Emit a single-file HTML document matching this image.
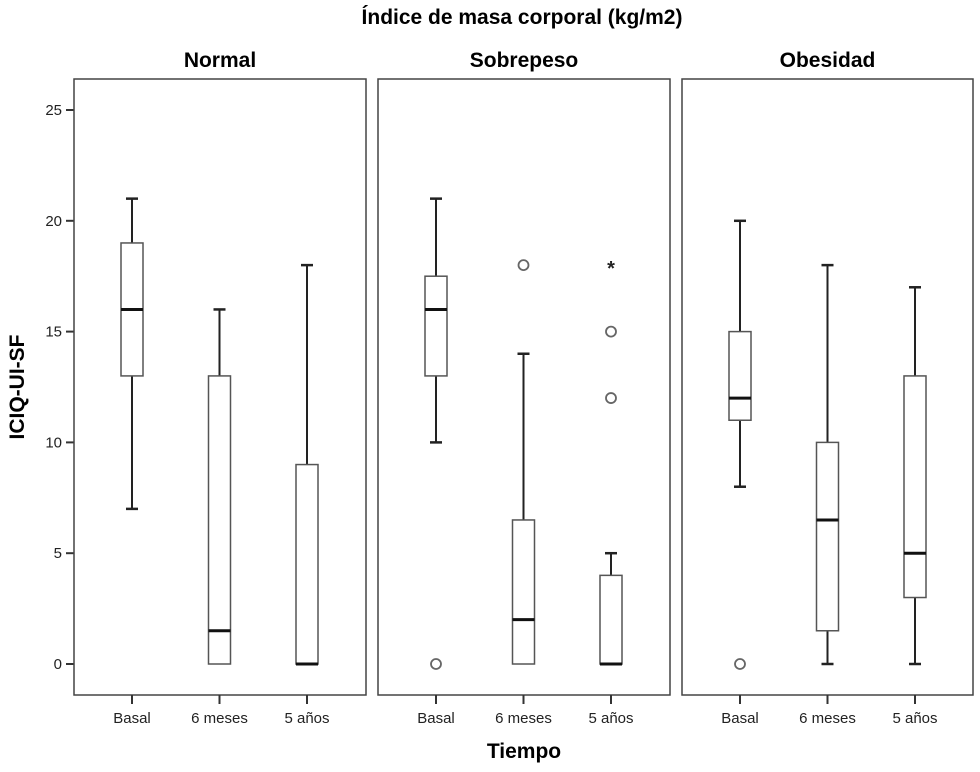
<!DOCTYPE html>
<html><head><meta charset="utf-8"><style>
body{margin:0;background:#fff;}
svg text{font-family:"Liberation Sans",Arial,sans-serif;}
</style></head><body>
<svg id="chart" width="980" height="767" viewBox="0 0 980 767" xmlns="http://www.w3.org/2000/svg">
<text x="522" y="24" font-size="21" font-weight="bold" text-anchor="middle">Índice de masa corporal (kg/m2)</text>
<text x="524" y="758" font-size="21" font-weight="bold" text-anchor="middle">Tiempo</text>
<text transform="translate(24,387) rotate(-90)" font-size="21" font-weight="bold" text-anchor="middle">ICIQ-UI-SF</text>
<g id="plot"></g>
</svg>
<script>
const panels = ["Normal","Sobrepeso","Obesidad"];
const categories = ["Basal","6 meses","5 años"];
const yTicks = [0,5,10,15,20,25];
// [min, q1, median, q3, max] per panel per category
const normalStats = [[7,13,16,19,21],[0,0,1.5,13,16],[0,0,0,9,18]];
const sobrepesoStats = [[10,13,16,17.5,21],[0,0,2,6.5,14],[0,0,0,4,5]];
const obesidadStats = [[8,11,12,15,20],[0,1.5,6.5,10,18],[0,3,5,13,17]];
const normalOutliers = [[],[],[]];
const sobrepesoOutliers = [[0],[18],[12,15]];
const obesidadOutliers = [[0],[],[]];
const sobrepesoExtremes = [[],[],[18]];
const normalExtremes = [[],[],[]];
const obesidadExtremes = [[],[],[]];

const allStats=[normalStats,sobrepesoStats,obesidadStats];
const allOut=[normalOutliers,sobrepesoOutliers,obesidadOutliers];
const allExt=[normalExtremes,sobrepesoExtremes,obesidadExtremes];
const panelX=[[74,366],[378,670],[682,973]];
const topY=79,bottomY=695;
const y=v=>664-v*(664-110)/25;
const xPos=(p,i)=>panelX[p][0]+58+i*87.5;
const g=document.getElementById('plot');
const NS="http://www.w3.org/2000/svg";
function mk(tag,attrs,parent){const e=document.createElementNS(NS,tag);for(const k in attrs)e.setAttribute(k,attrs[k]);(parent||g).appendChild(e);return e;}
yTicks.forEach(t=>{
  const l=mk('line',{x1:66,x2:74,y1:y(t),y2:y(t),stroke:'#333','stroke-width':2});
  
  
  const tx=mk('text',{x:62,y:y(t)+5,'font-size':15,'text-anchor':'end',fill:'#222'});
  tx.textContent=t;
  
  
});
panels.forEach((name,p)=>{
  const [x0,x1]=panelX[p];
  const fr=mk('rect',{x:x0,y:topY,width:x1-x0,height:bottomY-topY,fill:'none',stroke:'#444','stroke-width':1.5});
  
  
  const tt=mk('text',{x:(x0+x1)/2,y:67,'font-size':21,'font-weight':'bold','text-anchor':'middle'});
  tt.textContent=name;
  
  
  categories.forEach((c,i)=>{
    const cx=xPos(p,i),w=22,s=allStats[p][i];
    const tk=mk('line',{x1:cx,x2:cx,y1:bottomY,y2:bottomY+9,stroke:'#333','stroke-width':2});
    
    
    const lb=mk('text',{x:cx,y:723,'font-size':15,'text-anchor':'middle',fill:'#222'});
    lb.textContent=c;
    
    
    const bg=mk('g',{});
    
    
    mk('line',{x1:cx,x2:cx,y1:y(s[4]),y2:y(s[3]),stroke:'#222','stroke-width':2},bg);
    mk('line',{x1:cx,x2:cx,y1:y(s[1]),y2:y(s[0]),stroke:'#222','stroke-width':2},bg);
    if(s[4]>s[3]) mk('line',{x1:cx-6,x2:cx+6,y1:y(s[4]),y2:y(s[4]),stroke:'#222','stroke-width':2.5},bg);
    if(s[0]<s[1]) mk('line',{x1:cx-6,x2:cx+6,y1:y(s[0]),y2:y(s[0]),stroke:'#222','stroke-width':2.5},bg);
    mk('rect',{x:cx-w/2,y:y(s[3]),width:w,height:Math.max(0,y(s[1])-y(s[3])),fill:'#fff',stroke:'#555','stroke-width':1.5},bg);
    mk('line',{x1:cx-w/2,x2:cx+w/2,y1:y(s[2]),y2:y(s[2]),stroke:'#111','stroke-width':3},bg);
    allOut[p][i].forEach(v=>{
      const o=mk('circle',{cx:cx,cy:y(v),r:5,fill:'none',stroke:'#666','stroke-width':1.8});
      
      
    });
    allExt[p][i].forEach(v=>{
      const e=mk('text',{x:cx,y:y(v)+10,'font-size':20,'font-weight':'bold','text-anchor':'middle',fill:'#222'});
      e.textContent='*';
      
      
    });
  });
});
</script>
</body></html>
